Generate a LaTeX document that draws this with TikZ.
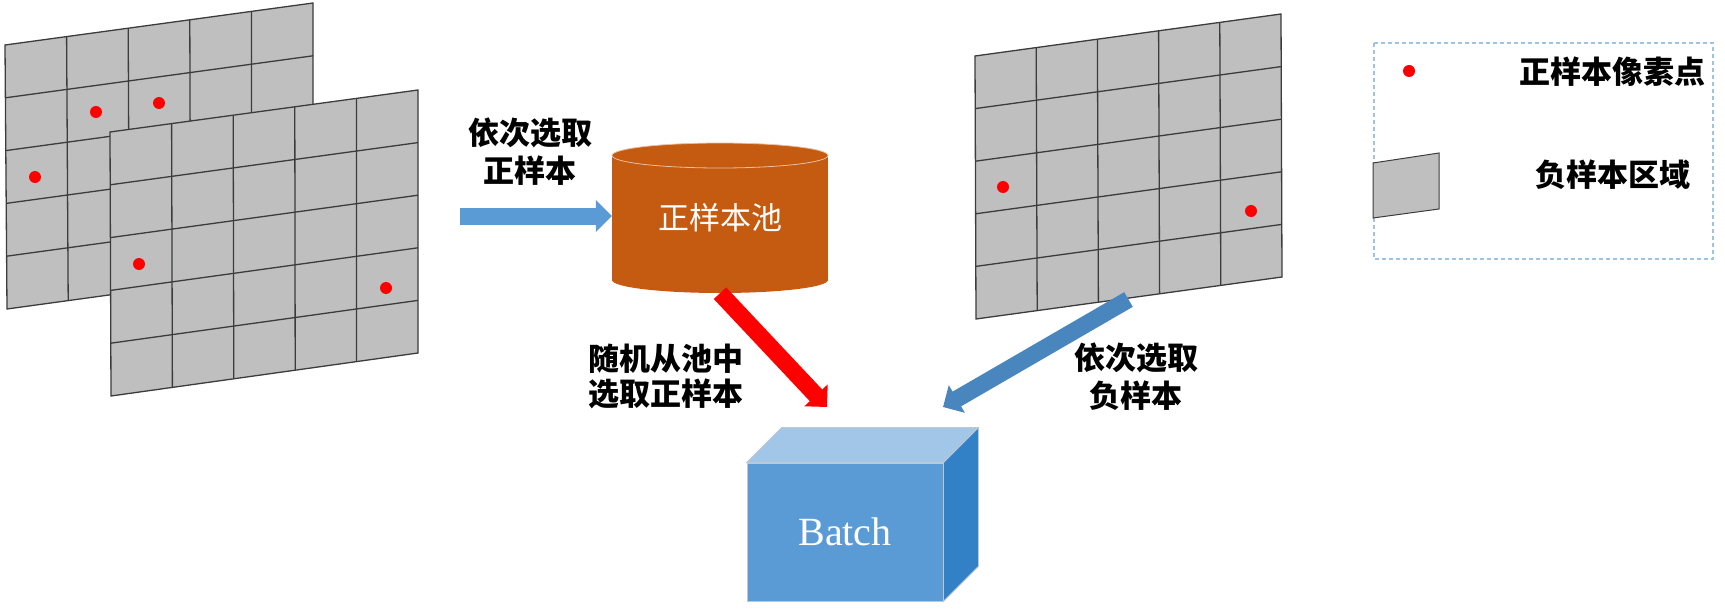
\documentclass[tikz,border=0pt]{standalone}
\usepackage{fontspec}
\setmainfont{Liberation Serif}
\newfontfamily\cjk{Noto Sans CJK SC}
\usetikzlibrary{calc,arrows.meta}
\definecolor{gridfill}{RGB}{191,191,191}
\definecolor{gridln}{RGB}{60,60,60}
\definecolor{poolc}{RGB}{197,90,17}
\definecolor{lblue}{RGB}{91,155,213}
\definecolor{dblue}{RGB}{74,134,190}
\definecolor{btop}{RGB}{162,198,231}
\definecolor{bside}{RGB}{50,128,198}
\definecolor{legc}{RGB}{157,195,230}
\definecolor{edgec}{RGB}{190,200,210}
\definecolor{rimc}{RGB}{235,190,160}
\newcommand{\quadgrid}[4]{%
  \coordinate (q1) at #1; \coordinate (q2) at #2;
  \coordinate (q3) at #3; \coordinate (q4) at #4;
  \fill[gridfill] (q1) -- (q2) -- (q3) -- (q4) -- cycle;
  \foreach \i in {1,...,4}{%
    \draw[gridline] ($(q1)!\i/5!(q4)$) -- ($(q2)!\i/5!(q3)$);
    \draw[gridline] ($(q1)!\i/5!(q2)$) -- ($(q4)!\i/5!(q3)$);
  }
  \draw[gridline] (q1) -- (q2) -- (q3) -- (q4) -- cycle;
}
\begin{document}
\begin{tikzpicture}[x=1pt,y=-1pt,
  gridline/.style={draw=gridln,line width=1.3pt,line join=miter},
  posdot/.style={fill=red},
  lbl/.style={font={\cjk\bfseries\fontsize{31}{38}\selectfont},align=center,inner sep=0pt},
  fatarrow/.style={line width=17pt,-{Triangle[length=16pt,width=31pt]}}]
\useasboundingbox (0,0) rectangle (1725,615);
% left stacked grids
\quadgrid{(5,45)}{(313,3)}{(313,267)}{(7,309)}
\fill[posdot] (96,112) circle (6);
\fill[posdot] (159,103) circle (6);
\fill[posdot] (35,177) circle (6);
\quadgrid{(110,132)}{(418,90)}{(418,353)}{(111,396)}
\fill[posdot] (139,264) circle (6);
\fill[posdot] (386,288) circle (6);
% right grid
\quadgrid{(975,56)}{(1281,14)}{(1282,277)}{(976,319)}
\fill[posdot] (1003,187) circle (6);
\fill[posdot] (1251,211) circle (6);
% cylinder pool
\fill[poolc] (720,280) ellipse [x radius=108, y radius=13];
\fill[poolc] (612,155.5) rectangle (828,280);
\draw[fill=poolc,draw=rimc,line width=0.8pt] (720,155.5) ellipse [x radius=108, y radius=12.5];
\node[font={\cjk\fontsize{31}{38}\selectfont},text=white,minimum width=216pt,minimum height=150pt,inner sep=0pt] (pool) at (720,218) {正样本池};
% batch box
\node[fill=lblue,draw=edgec,line width=0.8pt,minimum width=196pt,minimum height=138pt,inner sep=0pt,text=white,font=\fontsize{40}{48}\selectfont] (batch) at (845,532) {Batch};
\filldraw[fill=btop,draw=edgec,line width=0.8pt] (batch.north west) -- ++(35,-35) -- ($(batch.north east)+(35,-35)$) -- (batch.north east) -- cycle;
\filldraw[fill=bside,draw=edgec,line width=0.8pt] (batch.north east) -- ++(35,-35) -- ($(batch.south east)+(35,-35)$) -- (batch.south east) -- cycle;
% arrows
\coordinate (possrc) at (460,216);
\coordinate (redtip) at (827,407);
\coordinate (negsrc) at (1128.5,299.5);
\coordinate (negtip) at (943,407);
\draw[fatarrow,lblue] (possrc) -- (possrc -| pool.west);
\draw[fatarrow,red] (pool.south) -- (redtip);
\draw[fatarrow,dblue] (negsrc) -- (negtip);
% labels
\node[lbl] (l1) at (530,152) {依次选取\\正样本};
\node[lbl,font={\cjk\bfseries\fontsize{31}{35}\selectfont}] (l2) at (666,376) {随机从池中\\选取正样本};
\node[lbl] (l3) at (1136,377) {依次选取\\负样本};
% legend
\draw[legc,line width=1.5pt,dash pattern=on 4pt off 3pt] (1374,43) rectangle (1713,259);
\fill[posdot] (1409,71) circle (6);
\filldraw[fill=gridfill,draw=gridln,line width=1pt] (1373,163) -- (1439,153) -- (1439,209) -- (1373,218) -- cycle;
\node[lbl] (leg1) at (1612,72) {正样本像素点};
\node[lbl] (leg2) at (1612.5,175) {负样本区域};
\end{tikzpicture}
\end{document}
